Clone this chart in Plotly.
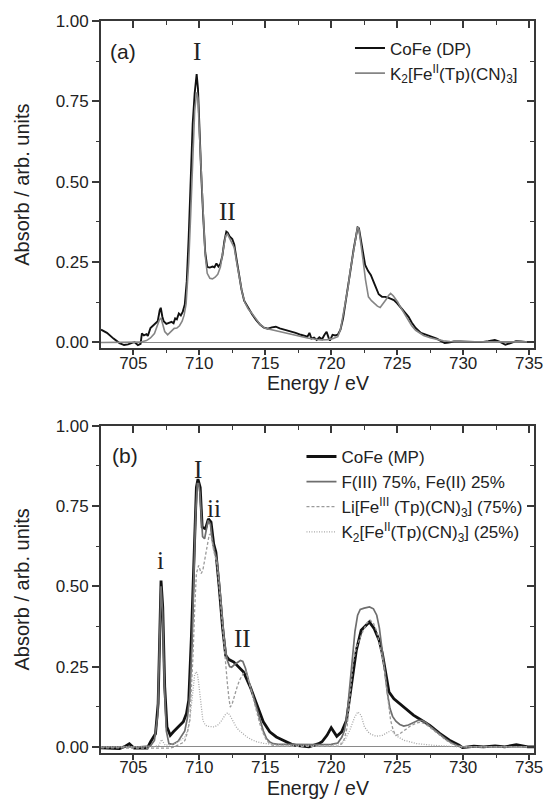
import plotly.graph_objects as go

# ---------------- panel (a): CoFe (DP) vs K2[Fe(II)(Tp)(CN)3] ----------------
e_a_cofe = [702.55, 703.0, 703.5, 703.95, 704.3, 704.6, 704.9, 705.1, 705.35, 705.55,
            705.65, 705.8, 706.0, 706.1, 706.3, 706.5, 706.7, 706.85, 707.0, 707.08,
            707.2, 707.3, 707.5, 707.7, 707.9, 708.05, 708.17, 708.3, 708.45, 708.6,
            708.75, 708.9, 709.05, 709.2, 709.36, 709.5, 709.65, 709.8, 709.9, 710.0,
            710.15, 710.3, 710.45, 710.6, 710.8, 711.0, 711.15, 711.3, 711.45, 711.6,
            711.75, 711.9, 712.05, 712.15, 712.3, 712.5, 712.65, 712.8, 713.0, 713.2,
            713.4, 713.7, 714.0, 714.3, 714.6, 714.9, 715.2, 715.5, 715.8, 716.1,
            716.5, 716.9, 717.3, 717.7, 718.0, 718.2, 718.35, 718.5, 718.7, 718.9,
            719.1, 719.3, 719.5, 719.65, 719.8, 719.9, 720.1, 720.3, 720.5, 720.7,
            720.9, 721.1, 721.3, 721.5, 721.7, 721.85, 722.0, 722.1, 722.25, 722.4,
            722.57, 722.8, 723.0, 723.3, 723.6, 723.85, 724.1, 724.4, 724.75, 725.0,
            725.24, 725.5, 725.86, 726.1, 726.4, 726.8, 727.2, 727.6, 728.0, 728.3,
            728.6, 728.9, 729.3, 729.8, 730.3, 730.8, 731.4, 731.9, 732.4, 732.8,
            733.2, 733.6, 734.0, 734.4, 734.9, 735.37]
a_cofe = [0.040, 0.030, 0.012, -0.002, -0.008, -0.006, -0.001, 0.001, -0.008, -0.004,
          0.028, 0.022, 0.026, 0.020, 0.045, 0.052, 0.060, 0.066, 0.100, 0.108,
          0.080, 0.066, 0.058, 0.062, 0.064, 0.060, 0.075, 0.072, 0.090, 0.084,
          0.096, 0.118, 0.190, 0.330, 0.540, 0.680, 0.775, 0.835, 0.790, 0.660,
          0.520, 0.390, 0.280, 0.235, 0.233, 0.236, 0.234, 0.246, 0.236, 0.245,
          0.270, 0.315, 0.345, 0.342, 0.330, 0.322, 0.305, 0.265, 0.215, 0.165,
          0.130, 0.107, 0.088, 0.070, 0.056, 0.046, 0.043, 0.047, 0.049, 0.044,
          0.040, 0.034, 0.030, 0.024, 0.020, 0.018, 0.030, 0.012, 0.015, 0.008,
          0.016, 0.010, 0.025, 0.033, 0.015, 0.006, 0.024, 0.022, 0.024, 0.040,
          0.075, 0.125, 0.180, 0.235, 0.290, 0.330, 0.358, 0.355, 0.320, 0.275,
          0.241, 0.222, 0.210, 0.180, 0.150, 0.142, 0.142, 0.138, 0.132, 0.122,
          0.111, 0.097, 0.080, 0.062, 0.045, 0.030, 0.024, 0.018, 0.012, 0.005,
          -0.002, 0.000, 0.003, 0.003, 0.002, 0.003, 0.001, 0.004, 0.008, 0.002,
          -0.007, -0.002, 0.004, 0.003, 0.001, 0.002]

e_a_k2 = [702.55, 703.5, 704.5, 705.5, 706.0, 706.3, 706.6, 706.8, 706.98, 707.1,
          707.22, 707.38, 707.6, 707.9, 708.1, 708.3, 708.5, 708.7, 708.85, 709.0,
          709.2, 709.35, 709.5, 709.65, 709.8, 709.9, 710.0, 710.15, 710.3, 710.45,
          710.6, 710.8, 711.0, 711.2, 711.4, 711.6, 711.8, 712.0, 712.13, 712.3,
          712.5, 712.65, 712.85, 713.05, 713.25, 713.45, 713.7, 714.0, 714.3, 714.6,
          715.0, 715.4, 715.8, 716.2, 716.7, 717.2, 717.7, 718.2, 718.7, 719.2,
          719.7, 720.1, 720.5, 720.7, 720.9, 721.1, 721.28, 721.45, 721.65, 721.85,
          722.0, 722.1, 722.25, 722.4, 722.6, 722.82, 723.05, 723.26, 723.5, 723.71,
          723.9, 724.13, 724.35, 724.5, 724.7, 724.87, 725.05, 725.24, 725.5, 725.8,
          726.1, 726.4, 726.7, 727.0, 727.5, 728.0, 728.5, 729.0, 730.0, 731.0,
          732.0, 733.0, 734.0, 735.37]
a_k2 = [0.000, 0.000, 0.000, 0.001, 0.006, 0.014, 0.028, 0.050, 0.071, 0.076,
        0.058, 0.034, 0.024, 0.038, 0.044, 0.045, 0.052, 0.066, 0.085, 0.120,
        0.250, 0.400, 0.560, 0.720, 0.778, 0.760, 0.660, 0.520, 0.390, 0.270,
        0.215, 0.200, 0.198, 0.203, 0.212, 0.235, 0.285, 0.332, 0.338, 0.325,
        0.310, 0.295, 0.245, 0.195, 0.155, 0.125, 0.105, 0.090, 0.072, 0.056,
        0.044, 0.040, 0.037, 0.033, 0.028, 0.023, 0.018, 0.014, 0.011, 0.008,
        0.009, 0.012, 0.018, 0.040, 0.085, 0.130, 0.174, 0.225, 0.277, 0.330,
        0.360, 0.352, 0.310, 0.260, 0.195, 0.142, 0.130, 0.122, 0.113, 0.109,
        0.118, 0.132, 0.146, 0.153, 0.145, 0.137, 0.125, 0.111, 0.092, 0.072,
        0.052, 0.038, 0.030, 0.022, 0.015, 0.010, 0.005, 0.003, 0.002, 0.002,
        0.002, 0.002, 0.002, 0.002]

# ---------------- panel (b): CoFe (MP) with 75/25 reference mixture ----------------
e_b_cofe = [702.55, 703.3, 703.96, 704.4, 704.7, 705.07, 705.6, 706.06, 706.31, 706.68,
            706.88, 707.0, 707.1, 707.23, 707.38, 707.55, 707.8, 708.04, 708.41, 708.79,
            709.03, 709.2, 709.4, 709.6, 709.78, 709.9, 710.07, 710.22, 710.47, 710.69,
            710.89, 711.09, 711.26, 711.51, 711.76, 712.0, 712.25, 712.62, 712.99, 713.36,
            713.86, 714.35, 714.85, 715.34, 715.84, 716.35, 717.0, 717.32, 718.31, 719.05,
            719.3, 719.68, 720.0, 720.42, 720.79, 721.16, 721.53, 721.9, 722.27, 722.65,
            722.89, 723.26, 723.63, 723.88, 724.13, 724.38, 724.75, 725.49, 726.23, 726.85,
            727.47, 728.22, 728.96, 729.7, 729.95, 730.81, 731.55, 732.42, 733.16, 734.03,
            734.9, 735.37]
b_cofe = [-0.003, -0.004, -0.005, 0.002, 0.010, -0.004, -0.005, -0.004, 0.016, 0.041,
          0.135, 0.394, 0.518, 0.435, 0.187, 0.062, 0.036, 0.047, 0.062, 0.078,
          0.104, 0.145, 0.342, 0.601, 0.808, 0.834, 0.808, 0.684, 0.679, 0.710,
          0.700, 0.632, 0.606, 0.497, 0.373, 0.285, 0.272, 0.264, 0.249, 0.233,
          0.187, 0.130, 0.078, 0.047, 0.031, 0.021, 0.008, 0.005, 0.000, 0.010,
          0.016, 0.036, 0.060, 0.033, 0.047, 0.083, 0.187, 0.300, 0.363, 0.378,
          0.389, 0.368, 0.332, 0.290, 0.228, 0.171, 0.150, 0.124, 0.099, 0.083,
          0.067, 0.042, 0.021, 0.005, -0.002, 0.002, 0.000, 0.003, 0.000, 0.007,
          0.000, 0.000]

e_b_fit = [702.55, 704.0, 705.5, 706.3, 706.6, 706.85, 706.98, 707.1, 707.22, 707.35,
           707.5, 707.7, 708.0, 708.4, 708.9, 709.1, 709.28, 709.45, 709.6, 709.72,
           709.85, 709.95, 710.05, 710.15, 710.25, 710.4, 710.55, 710.67, 710.84, 711.0,
           711.15, 711.34, 711.5, 711.63, 711.75, 711.88, 712.0, 712.13, 712.3, 712.45,
           712.75, 713.12, 713.3, 713.5, 713.74, 714.1, 714.35, 714.6, 714.85, 715.1,
           715.35, 715.6, 716.0, 717.0, 718.0, 719.0, 720.0, 720.5, 720.8, 721.0,
           721.2, 721.4, 721.6, 721.8, 722.0, 722.2, 722.5, 722.9, 723.2, 723.45,
           723.65, 723.85, 724.05, 724.25, 724.45, 724.65, 724.9, 725.2, 725.5, 725.85,
           726.2, 726.6, 726.9, 727.2, 727.5, 727.9, 728.3, 728.7, 729.1, 729.5,
           729.9, 730.5, 732.0, 733.5, 735.37]
b_fit = [0.000, 0.000, 0.000, 0.003, 0.020, 0.100, 0.300, 0.500, 0.420, 0.200,
         0.050, 0.010, 0.008, 0.018, 0.050, 0.090, 0.160, 0.320, 0.550, 0.720,
         0.820, 0.820, 0.790, 0.700, 0.655, 0.648, 0.685, 0.705, 0.694, 0.640,
         0.610, 0.580, 0.520, 0.456, 0.390, 0.342, 0.300, 0.269, 0.250, 0.248,
         0.259, 0.269, 0.266, 0.245, 0.207, 0.155, 0.120, 0.083, 0.050, 0.026,
         0.015, 0.010, 0.008, 0.008, 0.007, 0.007, 0.008, 0.012, 0.030, 0.050,
         0.100, 0.180, 0.280, 0.360, 0.410, 0.428, 0.432, 0.436, 0.430, 0.410,
         0.370, 0.310, 0.240, 0.170, 0.120, 0.095, 0.080, 0.070, 0.065, 0.068,
         0.075, 0.083, 0.082, 0.075, 0.064, 0.050, 0.036, 0.024, 0.013, 0.005,
         0.001, 0.000, 0.000, 0.000, 0.000]

e_b_li = [702.55, 704.0, 706.0, 707.5, 707.8, 708.1, 708.41, 708.7, 708.91, 709.1,
          709.28, 709.4, 709.53, 709.65, 709.78, 709.95, 710.05, 710.15, 710.27, 710.39,
          710.52, 710.64, 710.75, 710.84, 710.95, 711.09, 711.2, 711.34, 711.5, 711.63,
          711.75, 711.88, 712.0, 712.13, 712.25, 712.35, 712.5, 712.7, 712.87, 713.05,
          713.24, 713.45, 713.55, 713.74, 713.95, 714.15, 714.4, 714.6, 714.85, 715.1,
          715.4, 715.7, 716.5, 718.0, 719.5, 720.5, 720.8, 721.0, 721.2, 721.4,
          721.65, 721.9, 722.15, 722.4, 722.7, 722.95, 723.2, 723.45, 723.7, 724.0,
          724.25, 724.5, 724.7, 724.87, 725.1, 725.37, 725.7, 726.0, 726.48, 726.8,
          727.1, 727.5, 727.9, 728.3, 728.7, 729.1, 729.5, 729.9, 730.5, 732.0,
          733.5, 735.37]
b_li = [-0.003, -0.003, -0.002, -0.003, -0.004, 0.000, 0.005, 0.012, 0.020, 0.045,
        0.083, 0.170, 0.290, 0.430, 0.540, 0.565, 0.555, 0.540, 0.550, 0.580,
        0.615, 0.642, 0.660, 0.663, 0.645, 0.611, 0.590, 0.570, 0.500, 0.435,
        0.370, 0.311, 0.250, 0.197, 0.150, 0.124, 0.135, 0.165, 0.187, 0.208,
        0.223, 0.236, 0.236, 0.207, 0.175, 0.140, 0.100, 0.070, 0.042, 0.020,
        0.008, 0.003, 0.002, 0.002, 0.002, 0.002, 0.010, 0.025, 0.060, 0.140,
        0.260, 0.310, 0.337, 0.360, 0.385, 0.395, 0.385, 0.360, 0.310, 0.249,
        0.166, 0.083, 0.052, 0.036, 0.038, 0.047, 0.056, 0.065, 0.075, 0.077,
        0.072, 0.060, 0.046, 0.033, 0.021, 0.011, 0.004, 0.000, 0.000, 0.000,
        0.000, 0.000]

e_b_k2 = [702.55, 704.5, 706.5, 706.93, 707.05, 707.15, 707.3, 707.42, 707.92, 708.41,
          708.91, 709.1, 709.28, 709.4, 709.53, 709.65, 709.75, 709.85, 709.95, 710.1,
          710.27, 710.45, 710.64, 711.13, 711.4, 711.63, 711.85, 712.0, 712.15, 712.3,
          712.5, 712.75, 712.99, 713.3, 713.61, 714.0, 714.35, 714.85, 715.34, 716.0,
          717.0, 718.0, 719.0, 720.0, 720.5, 720.8, 721.04, 721.41, 721.78, 722.02,
          722.27, 722.52, 722.89, 723.39, 723.88, 724.38, 724.58, 724.87, 725.49, 726.48,
          727.72, 729.7, 731.5, 733.5, 735.37]
b_k2 = [0.000, 0.000, 0.000, 0.005, 0.018, 0.023, 0.012, 0.005, 0.008, 0.016,
        0.031, 0.050, 0.083, 0.130, 0.187, 0.225, 0.234, 0.230, 0.200, 0.135,
        0.083, 0.068, 0.064, 0.062, 0.068, 0.078, 0.093, 0.102, 0.106, 0.100,
        0.085, 0.065, 0.052, 0.040, 0.031, 0.022, 0.016, 0.011, 0.008, 0.006,
        0.005, 0.004, 0.004, 0.005, 0.008, 0.012, 0.021, 0.052, 0.093, 0.109,
        0.098, 0.062, 0.042, 0.033, 0.036, 0.047, 0.052, 0.036, 0.021, 0.010,
        0.005, 0.000, 0.000, 0.000, 0.000]

# ---------------- axes ----------------
x_range = [702.55, 735.37]
y_range_a = [-0.018, 1.0]
y_range_b = [-0.019, 1.0]
x_tick_vals = [705, 710, 715, 720, 725, 730, 735]
x_tick_text = ["705", "710", "715", "720", "725", "730", "735"]
y_tick_vals = [0.0, 0.25, 0.5, 0.75, 1.0]
y_tick_text = ["0.00", "0.25", "0.50", "0.75", "1.00"]

SANS = "Liberation Sans, Arial, sans-serif"
SERIF = "Liberation Serif, Times New Roman, serif"
INK = "#222222"
FRAME = "#383838"

fig = go.Figure()

# panel (a)
fig.add_trace(go.Scatter(x=e_a_cofe, y=a_cofe, mode="lines", name="CoFe (DP)",
                         line=dict(color="#111111", width=1.9), xaxis="x", yaxis="y",
                         legend="legend"))
fig.add_trace(go.Scatter(x=e_a_k2, y=a_k2, mode="lines",
                         name="K<sub>2</sub>[Fe<sup>II</sup>(Tp)(CN)<sub>3</sub>]",
                         line=dict(color="#858585", width=1.6), xaxis="x", yaxis="y",
                         legend="legend"))

# panel (b)
fig.add_trace(go.Scatter(x=e_b_cofe, y=b_cofe, mode="lines", name="CoFe (MP)",
                         line=dict(color="#111111", width=2.8), xaxis="x2", yaxis="y2",
                         legend="legend2"))
fig.add_trace(go.Scatter(x=e_b_fit, y=b_fit, mode="lines", name="F(III) 75%, Fe(II) 25%",
                         line=dict(color="#6e6e6e", width=1.7), xaxis="x2", yaxis="y2",
                         legend="legend2"))
fig.add_trace(go.Scatter(x=e_b_li, y=b_li, mode="lines",
                         name="Li[Fe<sup>III</sup> (Tp)(CN)<sub>3</sub>] (75%)",
                         line=dict(color="#9a9a9a", width=1.3, dash="3px,2px"),
                         xaxis="x2", yaxis="y2", legend="legend2"))
fig.add_trace(go.Scatter(x=e_b_k2, y=b_k2, mode="lines",
                         name="K<sub>2</sub>[Fe<sup>II</sup>(Tp)(CN)<sub>3</sub>] (25%)",
                         line=dict(color="#a8a8a8", width=1.3, dash="1px,1.5px"),
                         xaxis="x2", yaxis="y2", legend="legend2"))

# empty traces that carry the inward-ticked top/right frame axes
for xa, ya in (("x3", "y3"), ("x4", "y4")):
    fig.add_trace(go.Scatter(x=[None], y=[None], xaxis=xa, yaxis=ya, showlegend=False,
                             hoverinfo="skip"))

dom_a = [0.5529, 1.0]
dom_b = [0.0, 0.4471]

def x_main(anchor):
    return dict(range=x_range, tickmode="array", tickvals=x_tick_vals, ticktext=x_tick_text,
                ticks="outside", ticklen=5, tickwidth=1.5, tickcolor=FRAME,
                ticklabelstandoff=-7,
                minor=dict(dtick=2.5, tick0=705, ticks="outside", ticklen=3,
                           tickwidth=1.3, tickcolor=FRAME),
                showline=True, linecolor=FRAME, linewidth=1.7, mirror=True,
                showgrid=False, zeroline=False, anchor=anchor,
                tickfont=dict(family=SANS, size=17, color=INK))

def y_main(anchor, dom, rng):
    return dict(range=rng, domain=dom, tickmode="array", tickvals=y_tick_vals,
                ticktext=y_tick_text, ticks="outside", ticklen=7, tickwidth=1.5,
                tickcolor=FRAME,
                minor=dict(dtick=0.125, tick0=0, ticks="outside", ticklen=3.5,
                           tickwidth=1.3, tickcolor=FRAME),
                showline=True, linecolor=FRAME, linewidth=1.7, mirror=True,
                showgrid=False, zeroline=True, zerolinecolor="#8a8a8a", zerolinewidth=1.2,
                anchor=anchor,
                tickfont=dict(family=SANS, size=17, color=INK),
                title=dict(text="Absorb / arb. units",
                           font=dict(family=SANS, size=20, color=INK), standoff=21))

def x_top(over, anchor):
    return dict(overlaying=over, side="top", anchor=anchor, range=x_range,
                tickmode="array", tickvals=x_tick_vals, showticklabels=False,
                ticks="inside", ticklen=7, tickwidth=1.5, tickcolor=FRAME,
                minor=dict(dtick=2.5, tick0=705, ticks="inside", ticklen=4,
                           tickwidth=1.3, tickcolor=FRAME),
                showline=False, showgrid=False, zeroline=False)

def y_right(over, anchor, rng):
    return dict(overlaying=over, side="right", anchor=anchor, range=rng,
                tickmode="array", tickvals=y_tick_vals, showticklabels=False,
                ticks="inside", ticklen=7, tickwidth=1.5, tickcolor=FRAME,
                minor=dict(dtick=0.125, tick0=0, ticks="inside", ticklen=4,
                           tickwidth=1.3, tickcolor=FRAME),
                showline=False, showgrid=False, zeroline=False)

ann_base = dict(showarrow=False, font=dict(family=SERIF, size=25, color=INK))
title_font = dict(family=SANS, size=19.5, color=INK)
annotations = [
    # x-axis titles, placed just under the tick labels of each panel
    dict(text="Energy / eV", x=0.5, y=dom_a[0], xref="paper", yref="paper",
         xanchor="center", yanchor="middle", yshift=-35, showarrow=False, font=title_font),
    dict(text="Energy / eV", x=0.5, y=dom_b[0], xref="paper", yref="paper",
         xanchor="center", yanchor="middle", yshift=-35, showarrow=False, font=title_font),
    dict(text="(a)", x=704.2, y=0.905, xref="x", yref="y", showarrow=False,
         font=dict(family=SANS, size=21, color=INK)),
    dict(text="I", x=709.85, y=0.905, xref="x", yref="y", **ann_base),
    dict(text="II", x=712.13, y=0.407, xref="x", yref="y", **ann_base),
    dict(text="(b)", x=704.4, y=0.907, xref="x2", yref="y2", showarrow=False,
         font=dict(family=SANS, size=21, color=INK)),
    dict(text="I", x=709.9, y=0.865, xref="x2", yref="y2", **ann_base),
    dict(text="ii", x=711.14, y=0.741, xref="x2", yref="y2", **ann_base),
    dict(text="i", x=707.05, y=0.58, xref="x2", yref="y2", **ann_base),
    dict(text="II", x=713.3, y=0.337, xref="x2", yref="y2", **ann_base),
]

legend_common = dict(bgcolor="rgba(0,0,0,0)", borderwidth=0, xanchor="left", yanchor="top",
                     font=dict(family=SANS, size=17, color=INK), tracegroupgap=0,
                     itemwidth=30, itemclick=False, itemdoubleclick=False)

fig.update_layout(
    width=553, height=811,
    margin=dict(l=101, r=10, t=21, b=58),
    paper_bgcolor="white", plot_bgcolor="white",
    xaxis=x_main("y"),
    yaxis=y_main("x", dom_a, y_range_a),
    xaxis2=x_main("y2"),
    yaxis2=y_main("x2", dom_b, y_range_b),
    xaxis3=x_top("x", "y"),
    yaxis3=y_right("y", "x", y_range_a),
    xaxis4=x_top("x2", "y2"),
    yaxis4=y_right("y2", "x2", y_range_b),
    legend=dict(x=0.575, y=0.987, **legend_common),
    legend2=dict(x=0.463, y=0.429, **legend_common),
    annotations=annotations,
    showlegend=True,
)

fig.write_html("out.html")
